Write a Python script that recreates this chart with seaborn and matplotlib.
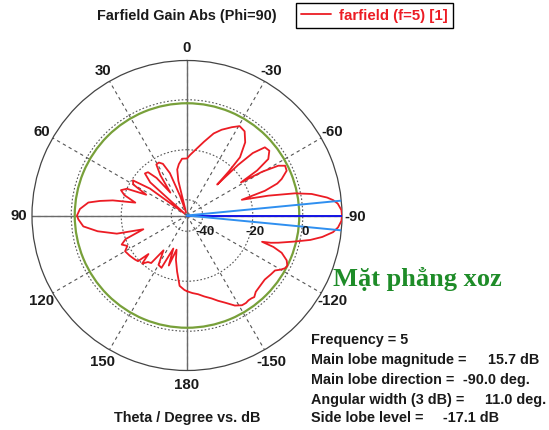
import numpy as np
import matplotlib
matplotlib.use("Agg")
import matplotlib.pyplot as plt
import seaborn as sns
import pandas as pd

# ---- data (theta in degrees, gain in dB) ----
theta_deg = [-180, -176, -172, -168, -163.5, -160, -156.5, -152, -148.5, -146,
             -144, -142, -140.5, -138, -134, -129.5, -125, -122, -120, -118.3,
             -116.6, -114.2, -111.5, -110, -109.3, -108, -106.6, -103.6, -101.2, -99,
             -96.5, -94.5, -92, -90, -88, -85.5, -84, -82.7, -80.2, -78.4,
             -76.3, -74, -72.4, -70.5, -68.9, -65.8, -63.1, -61.4, -59.8, -58.5,
             -57.3, -55.2, -51.8, -48.8, -46.5, -45.3, -44.3, -43.5, -42.3, -38.5,
             -34.4, -30.5, -26.9, -22, -18, -13, -7, -3, 0, 5,
             9, 12, 14, 17, 19.5, 22, 25, 28, 31, 33.5,
             36, 39, 42, 45, 48, 51, 54, 57, 60, 63,
             66, 69, 72, 76, 78.5, 80.5, 82.5, 86.5, 90, 92,
             96, 100, 104.5, 107.5, 111, 114, 117, 120, 125, 130,
             133, 135, 137, 140, 143, 146, 150, 154, 157.5, 160,
             163, 166, 170, 174, 178, 180]
gain_db = [-16, -15.2, -14.5, -13.2, -11.7, -10, -8.3, -5.5, -4.2, -4.1,
           -4.4, -4.3, -4.0, -5.2, -5.7, -6.0, -5.3, -4.8, -3.0, -1.8,
           -1.4, -2.6, -5.6, -9.5, -14.5, -11, -8.2, -2, 4, 8.5,
           12.5, 14.3, 15.5, 15.7, 15.5, 14.2, 12.5, 10.2, 4.3, -2.2,
           -12.8, -23.5, -13.6, -8, -5.7, -2.6, -2.3, -4.7, -11.5, -21,
           -13, -6.7, -4.4, -4.9, -10, -17.5, -29, -22, -14.8, -8.9,
           -5.5, -4.8, -6.7, -9.3, -11.8, -16, -20, -22, -23.5, -23.5,
           -25.5, -27.5, -32, -45, -38, -28, -23.5, -22.3, -22.5, -27,
           -35, -27, -23, -22.5, -26.5, -45, -28, -20.5, -21.5, -28,
           -20, -18, -20, -25, -16, -11, -6.5, -3.4, -2.3, -2.8,
           -4.6, -10, -17.3, -28, -20, -17.7, -19.5, -17.7, -18.3, -19,
           -19.5, -24.5, -20, -22, -22.5, -29.5, -23.5, -23, -32, -25,
           -32, -28, -23.5, -18, -16.5, -16]

angle_ticks = [0, 30, 60, 90, 120, 150, 180, 210, 240, 270, 300, 330]
angle_labels = ['0', '30', '60', '90', '120', '150', '180',
                '-150', '-120', '-90', '-60', '-30']
r_ticks = [-40, -20, 0]
r_min, r_max = -46.3, 15.7

frequency = 5
main_lobe_mag = 15.7
main_lobe_dir = -90.0
angular_width = 11.0
side_lobe_level = -17.1
series_label = 'farfield (f=5) [1]'

# ---- styling ----
sns.set_theme(style='white')
plt.rcParams['font.family'] = ['Liberation Sans', 'DejaVu Sans']
plt.rcParams['font.weight'] = 'bold'

W, H = 549, 431
fig = plt.figure(figsize=(W / 100, H / 100), dpi=100)
cx, cy, R = 187, 216.5, 155
ax = fig.add_axes([(cx - R) / W, (H - cy - R) / H, 2 * R / W, 2 * R / H],
                  projection='polar')
ax.set_theta_zero_location('N')
ax.set_theta_direction(1)
ax.set_ylim(r_min, r_max)
ax.set_facecolor('white')

ax.set_xticks(np.deg2rad(angle_ticks))
ax.set_xticklabels(angle_labels, fontsize=10.8, fontweight='bold', color='#1a1a1a')
ax.tick_params(axis='x', pad=-3.5)
ax.set_yticks(r_ticks)
ax.set_yticklabels([])
ax.xaxis.grid(True, color='#555555', linestyle=(0, (3, 3)), linewidth=0.8)
ax.yaxis.grid(True, color='#555555', linestyle=(0, (1.5, 1.8)), linewidth=0.8)
ax.spines['polar'].set_color('#444444')
ax.spines['polar'].set_linewidth(0.9)

# solid main axes lines
for a in [0, 90, 180, 270]:
    ax.axvline(np.deg2rad(a), color='#6a6a6a', linewidth=1.0, zorder=2)

# side lobe level circle
ax.axhline(main_lobe_mag + side_lobe_level, color='#78a03a', linewidth=1.6, zorder=3)

# pattern
df = pd.DataFrame({'theta': np.deg2rad(theta_deg), 'gain': gain_db})
sns.lineplot(data=df, x='theta', y='gain', sort=False, estimator=None, ax=ax,
             color='#ec1c24', linewidth=1.3, zorder=4, legend=False)
line = ax.lines[-1]
ax.set_xlabel('')
ax.set_ylabel('')

# main lobe direction and 3 dB width
ax.axvline(np.deg2rad(main_lobe_dir), color='#1414e6', linewidth=1.4, zorder=5)
for s in (-1, 1):
    ax.axvline(np.deg2rad(main_lobe_dir + s * angular_width / 2), color='#2f8ff0',
               linewidth=1.4, zorder=5)

# radial labels
for rv in r_ticks:
    ax.annotate(str(rv), xy=(np.deg2rad(270), rv), xytext=(2, -11),
                textcoords='offset points', ha='center', va='center',
                fontsize=9.5, fontweight='bold', color='#1a1a1a', zorder=6)

# texts
fs = 10.4
fig.text(cx / W, 1 - 16 / H, 'Farfield Gain Abs (Phi=90)', ha='center', va='center',
         fontsize=fs, fontweight='bold', color='#1a1a1a')
fig.text(cx / W, 1 - 418 / H, 'Theta / Degree vs. dB', ha='center', va='center',
         fontsize=fs, fontweight='bold', color='#1a1a1a')

leg = fig.legend([line], [series_label], loc='upper left', bbox_to_anchor=(296 / W, 1 - 4 / H),
                 borderaxespad=0, frameon=True, fancybox=False, framealpha=1,
                 edgecolor='black', handlelength=2.0, handletextpad=0.5,
                 borderpad=0.35, prop={'weight': 'bold', 'size': 10.8})
leg.get_frame().set_linewidth(1.0)
for t in leg.get_texts():
    t.set_color('#ec1c24')

fig.text(333 / W, 1 - 279 / H, 'Mặt phẳng xoz', ha='left', va='center',
         fontsize=19, fontweight='bold', color='#1e8c28',
         family=['Liberation Serif', 'DejaVu Serif'])

x0 = 311 / W
info = [
    (f'Frequency = {frequency}', None, None),
    ('Main lobe magnitude =', f'{main_lobe_mag:.1f} dB', 488),
    ('Main lobe direction =', f'{main_lobe_dir:.1f} deg.', 463),
    ('Angular width (3 dB) =', f'{angular_width:.1f} deg.', 485),
    ('Side lobe level =', f'{side_lobe_level:.1f} dB', 443),
]
ys = [340.5, 360, 380, 400, 418]
for (lab, val, vx), yy in zip(info, ys):
    fig.text(x0, 1 - yy / H, lab, ha='left', va='center', fontsize=fs,
             fontweight='bold', color='#1a1a1a')
    if val is not None:
        fig.text(vx / W, 1 - yy / H, val, ha='left', va='center', fontsize=fs,
                 fontweight='bold', color='#1a1a1a')

fig.savefig('out.png', dpi=100, facecolor='white')
